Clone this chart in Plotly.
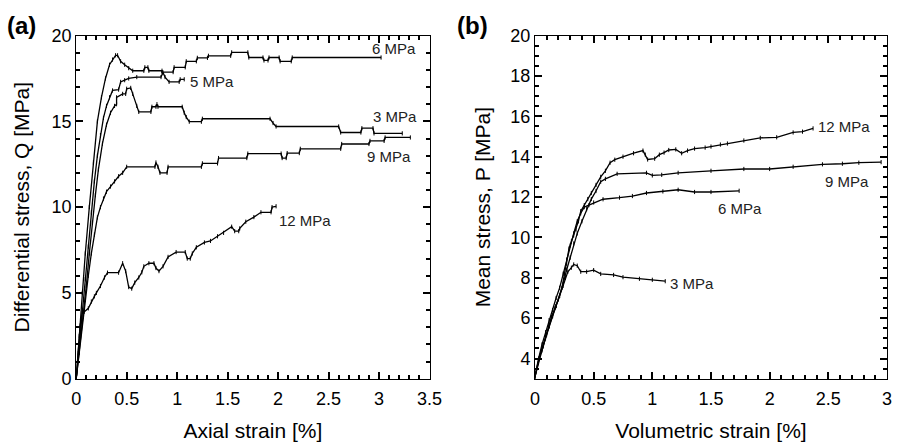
import plotly.graph_objects as go

# ---------------- Panel (a): Differential stress vs axial strain ----------------
a6_x = [0, 0.03, 0.06, 0.09, 0.13, 0.17, 0.21, 0.25, 0.29, 0.33, 0.36, 0.39, 0.41, 0.44, 0.48, 0.52, 0.56, 0.67,
        0.68, 0.71, 0.72, 0.85, 0.85, 0.96, 0.97, 1.08, 1.09, 1.19, 1.20, 1.30, 1.31, 1.53, 1.54, 1.70, 1.71, 1.85,
        1.86, 1.90, 1.91, 2.01, 2.02, 2.13, 2.14, 3.02]
a6_y = [0, 2.5, 5.0, 7.3, 10.0, 12.6, 15.0, 16.4, 17.5, 18.3, 18.6, 18.85, 18.85, 18.5, 18.3, 18.1, 17.95, 17.95,
        18.15, 18.15, 17.95, 17.95, 17.87, 17.87, 18.15, 18.15, 18.5, 18.5, 18.7, 18.7, 18.82, 18.82, 19.02, 19.02,
        18.72, 18.72, 18.55, 18.55, 18.72, 18.72, 18.5, 18.5, 18.72, 18.72]

a5_x = [0, 0.03, 0.06, 0.09, 0.12, 0.15, 0.18, 0.21, 0.24, 0.27, 0.30, 0.33, 0.36, 0.42, 0.44, 0.48, 0.52,
        0.60, 0.84, 0.86, 0.88, 0.92, 1.02, 1.03, 1.07]
a5_y = [0, 2.0, 4.0, 5.8, 7.7, 9.7, 11.5, 13.0, 14.2, 15.2, 15.9, 16.4, 16.8, 16.85, 17.3, 17.4, 17.5,
        17.58, 17.58, 17.85, 17.58, 17.3, 17.3, 17.45, 17.45]

a3_x = [0, 0.03, 0.07, 0.10, 0.13, 0.16, 0.19, 0.22, 0.26, 0.30, 0.34, 0.38, 0.40, 0.40, 0.46, 0.49, 0.50,
        0.54, 0.56, 0.60, 0.62, 0.74, 0.75, 0.79, 0.80, 0.81, 1.05, 1.07, 1.09, 1.12, 1.24, 1.25, 1.92, 1.95,
        1.98, 2.60, 2.62, 2.82, 2.83, 2.94, 2.95, 3.23]
a3_y = [0, 1.6, 3.6, 5.4, 7.3, 9.1, 10.7, 12.2, 13.7, 14.8, 15.5, 15.9, 16.0, 16.4, 16.6, 16.6, 16.9,
        16.95, 16.6, 15.9, 15.55, 15.55, 15.85, 15.85, 16.0, 15.85, 15.85, 15.5, 15.25, 14.98, 14.98, 15.15, 15.15,
        14.9, 14.7, 14.7, 14.35, 14.35, 14.6, 14.6, 14.3, 14.3]

a9_x = [0, 0.03, 0.06, 0.09, 0.12, 0.15, 0.18, 0.21, 0.24, 0.27, 0.30, 0.34, 0.38, 0.42, 0.46, 0.50, 0.78,
        0.79, 0.81, 0.83, 0.90, 0.91, 1.24, 1.25, 1.40, 1.41, 1.69, 1.70, 2.03, 2.04, 2.08, 2.09, 2.21, 2.22,
        2.62, 2.63, 2.90, 2.91, 3.05, 3.06, 3.31]
a9_y = [0, 1.5, 3.2, 4.6, 6.0, 7.3, 8.4, 9.4, 10.0, 10.5, 10.9, 11.2, 11.5, 11.8, 12.0, 12.35, 12.35,
        12.6, 12.35, 12.0, 12.0, 12.35, 12.35, 12.55, 12.55, 12.86, 12.86, 13.12, 13.12, 12.86, 12.86, 13.15,
        13.15, 13.4, 13.4, 13.68, 13.68, 13.86, 13.86, 14.06, 14.06]

a12_x = [0, 0.02, 0.04, 0.06, 0.08, 0.12, 0.15, 0.18, 0.20, 0.24, 0.28, 0.31, 0.42, 0.46, 0.49, 0.52, 0.55,
         0.58, 0.62, 0.65, 0.67, 0.72, 0.77, 0.79, 0.82, 0.86, 0.91, 0.99, 1.08, 1.10, 1.13, 1.15, 1.19, 1.27,
         1.33, 1.40, 1.46, 1.54, 1.57, 1.61, 1.62, 1.68, 1.76, 1.83, 1.93, 1.94, 1.98]
a12_y = [0, 1.5, 3.1, 3.9, 3.9, 4.1, 4.5, 4.8, 5.0, 5.4, 5.9, 6.18, 6.18, 6.73, 6.27, 5.34, 5.25,
         5.6, 5.9, 6.2, 6.55, 6.73, 6.73, 6.45, 6.27, 6.55, 7.1, 7.38, 7.38, 7.0, 7.0, 7.3, 7.66, 7.94,
         8.03, 8.3, 8.5, 8.86, 8.6, 8.6, 8.76, 9.15, 9.42, 9.7, 9.7, 10.0, 10.05]

a_labels = ["6 MPa", "5 MPa", "3 MPa", "9 MPa", "12 MPa"]
a_label_x = [3.15, 1.35, 3.16, 3.10, 2.27]
a_label_y = [19.25, 17.3, 15.26, 12.95, 9.24]

# ---------------- Panel (b): Mean stress vs volumetric strain ----------------
b12_x = [0, 0.02, 0.04, 0.07, 0.10, 0.12, 0.14, 0.17, 0.20, 0.23, 0.25, 0.27, 0.29, 0.31, 0.33, 0.35, 0.37,
         0.39, 0.42, 0.45, 0.48, 0.52, 0.56, 0.60, 0.64, 0.68, 0.75, 0.84, 0.92, 0.94, 0.96, 1.02, 1.06, 1.10,
         1.14, 1.20, 1.25, 1.30, 1.36, 1.45, 1.50, 1.58, 1.64, 1.78, 1.92, 2.06, 2.20, 2.28, 2.37]
b12_y = [3.1, 3.6, 4.1, 4.6, 5.2, 5.6, 6.06, 6.5, 6.93, 7.5, 8.2, 8.7, 9.45, 9.8, 10.1, 10.4, 10.8,
         11.3, 11.6, 11.9, 12.2, 12.6, 13.0, 13.3, 13.7, 13.85, 14.0, 14.17, 14.3, 14.1, 13.86, 13.9, 14.1, 14.2,
         14.33, 14.36, 14.17, 14.3, 14.4, 14.45, 14.5, 14.6, 14.65, 14.8, 14.93, 14.96, 15.2, 15.24, 15.4]

b9_x = [0, 0.03, 0.06, 0.09, 0.12, 0.15, 0.18, 0.21, 0.24, 0.27, 0.30, 0.33, 0.36, 0.40, 0.44, 0.48, 0.52,
        0.56, 0.60, 0.70, 0.95, 1.00, 1.08, 1.22, 1.50, 1.78, 2.00, 2.20, 2.45, 2.62, 2.76, 2.95]
b9_y = [3.1, 3.9, 4.5, 5.1, 5.6, 6.1, 6.6, 7.1, 7.7, 8.4, 9.0, 9.7, 10.2, 10.8, 11.4, 11.9, 12.3,
        12.76, 12.9, 13.15, 13.2, 13.07, 13.1, 13.2, 13.3, 13.39, 13.39, 13.5, 13.62, 13.65, 13.7, 13.73]

b6_x = [0, 0.03, 0.06, 0.09, 0.12, 0.15, 0.18, 0.21, 0.24, 0.27, 0.30, 0.33, 0.36, 0.39, 0.42, 0.46, 0.50,
        0.58, 0.72, 0.83, 0.95, 1.09, 1.22, 1.36, 1.50, 1.74]
b6_y = [3.1, 4.0, 4.7, 5.3, 5.9, 6.4, 7.0, 7.5, 8.2, 8.9, 9.6, 10.2, 10.8, 11.2, 11.5, 11.6, 11.73,
        11.89, 11.97, 12.05, 12.2, 12.28, 12.36, 12.25, 12.25, 12.31]

b3_x = [0, 0.03, 0.06, 0.09, 0.12, 0.15, 0.18, 0.21, 0.24, 0.26, 0.28, 0.31, 0.33, 0.36, 0.39, 0.44, 0.50,
        0.56, 0.67, 0.75, 0.89, 1.00, 1.11]
b3_y = [3.1, 3.8, 4.4, 5.0, 5.6, 6.1, 6.6, 7.1, 7.6, 8.0, 8.3, 8.5, 8.66, 8.6, 8.3, 8.3, 8.38,
        8.19, 8.14, 8.03, 7.95, 7.9, 7.83]

b_labels = ["12 MPa", "9 MPa", "6 MPa", "3 MPa"]
b_label_x = [2.63, 2.66, 1.75, 1.34]
b_label_y = [15.51, 12.76, 11.42, 7.72]

FONT = "Liberation Sans, Arial, Helvetica, sans-serif"

fig = go.Figure()

def add_curve(x, y, xa, ya):
    fig.add_trace(go.Scatter(
        x=x, y=y, xaxis=xa, yaxis=ya, mode="lines+markers",
        line=dict(color="black", width=1.3),
        marker=dict(symbol="line-ns", size=3, line=dict(color="black", width=1)),
        showlegend=False, hoverinfo="skip"))

# Some curves are drawn on the mirrored (top/right) overlay axes so those axes render their ticks
add_curve(a6_x, a6_y, "x3", "y3")
for xs, ys in [(a5_x, a5_y), (a3_x, a3_y), (a9_x, a9_y), (a12_x, a12_y)]:
    add_curve(xs, ys, "x", "y")
add_curve(b12_x, b12_y, "x4", "y4")
for xs, ys in [(b9_x, b9_y), (b6_x, b6_y), (b3_x, b3_y)]:
    add_curve(xs, ys, "x2", "y2")

annotations = []
for t, x, y in zip(a_labels, a_label_x, a_label_y):
    annotations.append(dict(text=t, x=x, y=y, xref="x", yref="y", showarrow=False,
                            font=dict(family=FONT, size=15, color="#222")))
for t, x, y in zip(b_labels, b_label_x, b_label_y):
    annotations.append(dict(text=t, x=x, y=y, xref="x2", yref="y2", showarrow=False,
                            font=dict(family=FONT, size=15, color="#222")))
annotations.append(dict(text="<b>(a)</b>", x=0.0, y=1.0, xref="paper", yref="paper",
                        xanchor="left", yanchor="top", showarrow=False,
                        font=dict(family=FONT, size=24, color="black")))
annotations.append(dict(text="<b>(b)</b>", x=0.506, y=1.0, xref="paper", yref="paper",
                        xanchor="left", yanchor="top", showarrow=False,
                        font=dict(family=FONT, size=24, color="black")))

TC = "black"
TW = 1.5

def axis(domain, rng, dtick, mdtick, anchor, title, standoff, tick0=0, labelstand=None):
    d = dict(domain=domain, range=rng, tick0=tick0, dtick=dtick, anchor=anchor,
             showline=True, linecolor="black", linewidth=1, mirror="allticks",
             ticks="inside", ticklen=7, tickcolor=TC, tickwidth=TW,
             showgrid=False, zeroline=False,
             tickfont=dict(family=FONT, size=18, color="black"),
             minor=dict(tick0=tick0, dtick=mdtick, ticks="inside", ticklen=4, tickcolor=TC, tickwidth=TW),
             title=dict(text=title, standoff=standoff, font=dict(family=FONT, size=21, color="black")))
    if labelstand is not None:
        d["ticklabelstandoff"] = labelstand
    return d

def over_axis(ref, anchor, side, rng, dtick, mdtick, tick0=0):
    return dict(overlaying=ref, matches=ref, anchor=anchor, side=side, range=rng, tick0=tick0, dtick=dtick,
                showline=True, linecolor="black", linewidth=1, mirror="allticks",
                ticks="inside", ticklen=7, tickcolor=TC, tickwidth=TW,
                showticklabels=False, showgrid=False, zeroline=False,
                minor=dict(tick0=tick0, dtick=mdtick, ticks="inside", ticklen=4, tickcolor=TC, tickwidth=TW))

XA = [0.080, 0.477]
XB = [0.5955, 0.991]
YD = [0.1345, 0.940]

fig.update_layout(
    width=908, height=446,
    margin=dict(l=0, r=0, t=0, b=0),
    paper_bgcolor="white", plot_bgcolor="rgba(0,0,0,0)",
    annotations=annotations,
    xaxis=axis(XA, [0, 3.5], 0.5, 0.1, "y", "Axial strain [%]", 14, labelstand=4),
    yaxis=axis(YD, [0, 20], 5, 1, "x", "Differential stress, Q [MPa]", 16),
    xaxis2=axis(XB, [0, 3], 0.5, 0.1, "y2", "Volumetric strain [%]", 14, labelstand=4),
    yaxis2=axis(YD, [3, 20], 2, 0.5, "x2", "Mean stress, P [MPa]", 14),
    xaxis3=over_axis("x", "y", "top", [0, 3.5], 0.5, 0.1),
    yaxis3=over_axis("y", "x", "right", [0, 20], 5, 1),
    xaxis4=over_axis("x2", "y2", "top", [0, 3], 0.5, 0.1),
    yaxis4=over_axis("y2", "x2", "right", [3, 20], 2, 0.5),
)

fig.write_html("out.html")
